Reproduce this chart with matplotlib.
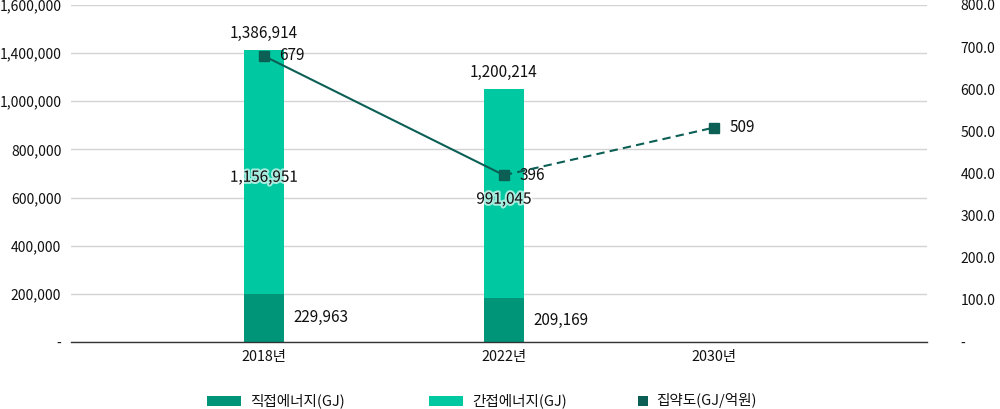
import matplotlib
matplotlib.use("Agg")
import matplotlib.pyplot as plt
import matplotlib.patheffects as pe
from matplotlib.patches import Rectangle
import numpy as np

plt.rcParams['font.family'] = ['Noto Sans CJK KR', 'DejaVu Sans']

# ---- data ----
years = ['2018년', '2022년', '2030년']
direct = [229963, 209169]          # 직접에너지(GJ)
indirect = [1156951, 991045]       # 간접에너지(GJ)
intensity = [679, 396, 509]        # 집약도(GJ/억원)
left_tick_labels = ['-', '200,000', '400,000', '600,000', '800,000',
                    '1,000,000', '1,400,000', '1,600,000']
right_tick_labels = ['-', '100.0', '200.0', '300.0', '400.0', '500.0',
                     '600.0', '700.0', '800.0']
legend_labels = ['직접에너지(GJ)', '간접에너지(GJ)', '집약도(GJ/억원)']

# ---- style / layout ----
c_direct = '#009479'
c_indirect = '#00c9a1'
c_line = '#0b5f55'
txt = '#111111'
xpos = np.array([0.0, 1.0, 1.875])   # category slots as laid out in the chart

fig = plt.figure(figsize=(10, 4.09), dpi=100)
ax = fig.add_axes([0.071, 0.1638, 0.856, 0.824])
ax2 = ax.twinx()

nb = len(direct)
bw = 0.167
ax.bar(xpos[:nb], direct, width=bw, color=c_direct, zorder=2)
ax.bar(xpos[:nb], indirect, width=bw, bottom=direct, color=c_indirect, zorder=2)

ax.set_ylim(0, 1600000)
ax.set_xlim(-0.804, 2.7625)
ax.set_yticks(np.linspace(0, 1600000, len(left_tick_labels)))
ax.set_yticklabels(left_tick_labels)
ax.grid(axis='y', color='#d3d3d3', linewidth=1, zorder=0)
ax.set_axisbelow(True)
ax.tick_params(axis='y', length=0, pad=7, labelsize=10, labelcolor=txt)
ax.tick_params(axis='x', length=0, pad=6, labelsize=10.3, labelcolor=txt)
ax.set_xticks(xpos)
ax.set_xticklabels(years)
for s in ['top', 'left', 'right']:
    ax.spines[s].set_visible(False)
ax.spines['bottom'].set_color('#333333')
ax.spines['bottom'].set_linewidth(1)

# bar labels
halo = [pe.withStroke(linewidth=3, foreground='white', alpha=0.65)]
for i in range(nb):
    total = direct[i] + indirect[i]
    ax.annotate(f'{total:,}', (xpos[i], total), xytext=(0, 6),
                textcoords='offset points', ha='center', va='bottom',
                fontsize=11, color=txt)
    ax.annotate(f'{indirect[i]:,}', (xpos[i], direct[i] + indirect[i] / 2),
                xytext=(0, -4), textcoords='offset points',
                ha='center', va='center', fontsize=11, color=txt,
                path_effects=halo, zorder=5)
    ax.annotate(f'{direct[i]:,}', (xpos[i], direct[i] / 2), xytext=(21, 0),
                textcoords='offset points', ha='left', va='center',
                fontsize=11, color=txt)

# intensity line (right axis)
ax2.set_ylim(0, 800)
ax2.set_yticks(np.linspace(0, 800, len(right_tick_labels)))
ax2.set_yticklabels(right_tick_labels)
ax2.tick_params(axis='y', length=0, pad=24, labelsize=10, labelcolor=txt)
for s in ['top', 'left', 'right', 'bottom']:
    ax2.spines[s].set_visible(False)
ax2.plot(xpos[:2], intensity[:2], color=c_line, lw=1.5, zorder=4)
ax2.plot(xpos[1:], intensity[1:], color=c_line, lw=1.5, ls=(0, (4, 2.5)), zorder=4)
ax2.plot(xpos, intensity, ls='none', marker='s', ms=7.5, color=c_line, zorder=5)
for i, v in enumerate(intensity):
    ax2.annotate(f'{v:,}', (xpos[i], v), xytext=(11, 0), textcoords='offset points',
                 ha='left', va='center', fontsize=11, color=txt)

# manual legend
W, H = 1000, 409
def fy(py):
    return 1 - py / H
leg_y = 401
items = [(207, 34, 10, c_direct, 250), (429, 34, 10, c_indirect, 472),
         (638, 10, 10, c_line, 656)]
for (px, pw, ph, col, tx), lab in zip(items, legend_labels):
    fig.add_artist(Rectangle((px / W, fy(leg_y + ph / 2)), pw / W, ph / H,
                             transform=fig.transFigure, color=col, lw=0))
    fig.text(tx / W, fy(leg_y), lab, ha='left', va='center', fontsize=10.5, color=txt)

fig.savefig('out.png', dpi=100)
